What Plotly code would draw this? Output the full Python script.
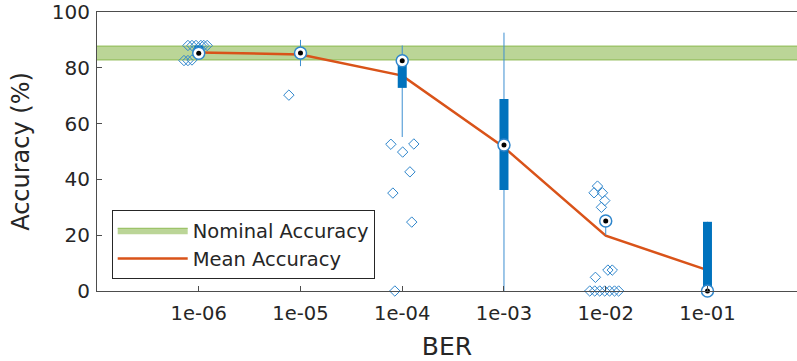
import plotly.graph_objects as go

# ---------------- data ----------------
ber = [1e-6, 1e-5, 1e-4, 1e-3, 1e-2, 1e-1]
tick_labels = ["1e-06", "1e-05", "1e-04", "1e-03", "1e-02", "1e-01"]
mean_acc = [85.5, 84.8, 77.2, 51.5, 19.8, 7.5]
median_acc = [85.2, 85.3, 82.5, 52.3, 25.1, 0.0]
q1_acc = [85.0, 83.5, 72.8, 36.2, 25.1, 0.0]
q3_acc = [88.0, 87.0, 81.0, 68.8, 25.1, 24.8]
whisk_lo = [84.0, 80.6, 55.2, 0.0, 20.0, 0.0]
whisk_hi = [88.2, 90.0, 88.0, 92.6, 25.1, 24.8]

outlier_ber = [7.16e-7, 7.83e-7, 8.58e-7, 7.83e-7, 8.58e-7, 9.39e-7, 1.05e-6, 1.12e-6, 1.21e-6,
               7.69e-6,
               7.73e-5, 1.30e-4, 1.01e-4, 1.19e-4, 8.09e-5, 1.24e-4, 8.46e-5,
               8.30e-3, 7.68e-3, 9.29e-3, 9.78e-3, 9.07e-3, 7.92e-3, 1.05e-2, 1.16e-2,
               6.97e-3, 7.80e-3, 8.73e-3, 9.78e-3, 1.09e-2, 1.22e-2, 1.34e-2]
outlier_acc = [82.6, 82.6, 82.8, 88.0, 88.0, 88.0, 88.0, 88.0, 88.0,
               70.2,
               52.6, 52.7, 49.8, 42.7, 35.1, 24.7, 0.0,
               37.6, 35.2, 35.2, 32.4, 30.0, 4.9, 7.5, 7.5,
               0.0, 0.0, 0.0, 0.0, 0.0, 0.0, 0.0]

nominal_lo = 82.8
nominal_hi = 87.8
band_x = [1e-8, 10.0]

BLUE = "#0072BD"
ORANGE = "#D95319"
TXT = "#262626"
FONT = "DejaVu Sans"

fig = go.Figure()

# nominal accuracy band
fig.add_trace(go.Scatter(
    x=[band_x[0], band_x[1], band_x[1], band_x[0], band_x[0]],
    y=[nominal_lo, nominal_lo, nominal_hi, nominal_hi, nominal_lo],
    fill="toself", fillcolor="rgba(119,172,48,0.5)",
    line=dict(color="rgba(119,172,48,0.75)", width=1),
    mode="lines", name="Nominal Accuracy", hoverinfo="skip"))

# mean line
fig.add_trace(go.Scatter(x=ber, y=mean_acc, mode="lines",
                         line=dict(color=ORANGE, width=2.5), name="Mean Accuracy"))

# whiskers and boxes
for b, lo, hi, a, c in zip(ber, whisk_lo, whisk_hi, q1_acc, q3_acc):
    fig.add_trace(go.Scatter(x=[b, b], y=[lo, hi], mode="lines",
                             line=dict(color="#3d8fd1", width=1),
                             showlegend=False, hoverinfo="skip"))
    if c > a:
        fig.add_trace(go.Scatter(x=[b, b], y=[a, c], mode="lines",
                                 line=dict(color=BLUE, width=9),
                                 showlegend=False, hoverinfo="skip"))

# outliers
fig.add_trace(go.Scatter(x=outlier_ber, y=outlier_acc, mode="markers",
                         marker=dict(symbol="diamond-open", size=8,
                                     color="#2f86cc", line=dict(width=1)),
                         showlegend=False, hoverinfo="skip", cliponaxis=False))

# median markers
fig.add_trace(go.Scatter(x=ber, y=median_acc, mode="markers",
                         marker=dict(symbol="circle", size=12, color="white",
                                     line=dict(color="#2f86cc", width=1.5)),
                         showlegend=False, hoverinfo="skip", cliponaxis=False))
fig.add_trace(go.Scatter(x=ber, y=median_acc, mode="markers",
                         marker=dict(symbol="circle", size=5, color="black"),
                         showlegend=False, hoverinfo="skip", cliponaxis=False))

fig.update_layout(
    width=797, height=361,
    margin=dict(l=97, r=0, t=12, b=70),
    paper_bgcolor="white", plot_bgcolor="white",
    font=dict(family=FONT, color=TXT, size=20),
    showlegend=True,
    legend=dict(x=0.021, y=0.29, xanchor="left", yanchor="top",
                bgcolor="white", bordercolor="#262626", borderwidth=1,
                font=dict(size=19.5, color=TXT), tracegroupgap=0,
                itemwidth=70),
)

fig.update_xaxes(
    type="log", range=[-7, -0.12], automargin=False,
    tickvals=ber, ticktext=tick_labels,
    ticks="inside", ticklen=5, tickcolor="#4d4d4d",
    showline=True, linecolor="#4d4d4d", linewidth=1, mirror=True,
    showgrid=False, zeroline=False,
    tickfont=dict(size=19.5, color=TXT), ticklabelstandoff=5,
    ticklabeloverflow="allow",
    title=dict(text="BER", font=dict(size=25, color=TXT)),
)
fig.update_yaxes(
    range=[0, 100], tickvals=[0, 20, 40, 60, 80, 100], automargin=False,
    ticks="inside", ticklen=5, tickcolor="#4d4d4d",
    showline=True, linecolor="#4d4d4d", linewidth=1, mirror=False,
    showgrid=False, zeroline=False,
    tickfont=dict(size=20, color=TXT), ticklabelstandoff=2,
    ticklabeloverflow="allow",
    title=dict(text="Accuracy (%)", font=dict(size=24, color=TXT)),
)

fig.write_html("out.html", config={"displayModeBar": False},
               post_script="document.body.style.margin='0px';")
